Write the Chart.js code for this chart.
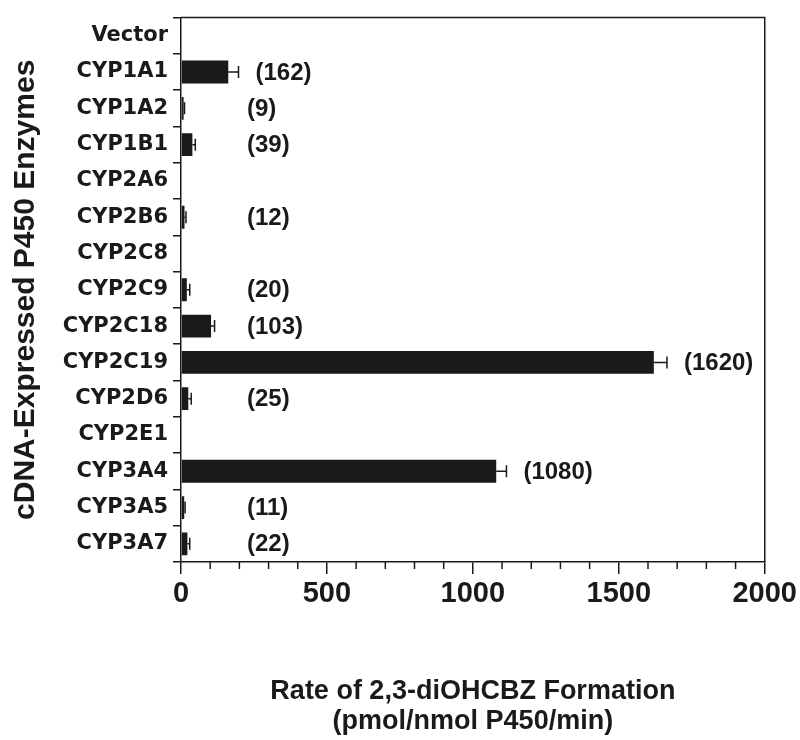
<!DOCTYPE html>
<html>
<head>
<meta charset="utf-8">
<script src="https://cdn.jsdelivr.net/npm/chart.js@4.4.0/dist/chart.umd.min.js"></script>
<style>
  html, body { margin: 0; padding: 0; background: #fff; }
</style>
</head>
<body>
<canvas id="rateChart" width="800" height="740"></canvas>
<script>
// data
const enzymes = ["Vector", "CYP1A1", "CYP1A2", "CYP1B1", "CYP2A6", "CYP2B6", "CYP2C8",
  "CYP2C9", "CYP2C18", "CYP2C19", "CYP2D6", "CYP2E1", "CYP3A4", "CYP3A5", "CYP3A7"];
const rates = [0, 162, 9, 39, 0, 12, 0, 20, 103, 1620, 25, 0, 1080, 11, 22];
const errors = [0, 35, 3, 10, 0, 5, 0, 10, 12, 45, 10, 0, 35, 3, 8];
const xTicks = [0, 500, 1000, 1500, 2000];

const ink = "#1a1a1a";
const sans = "'Liberation Sans', Arial, sans-serif";
const wide = "'DejaVu Sans', Verdana, sans-serif";

// box round the plot + minor ticks on the x axis
const framePlugin = {
  id: "frame",
  afterDraw(chart) {
    const { ctx, chartArea: a } = chart;
    const x = chart.scales.x;
    ctx.save();
    ctx.strokeStyle = ink;
    ctx.lineWidth = 1.5;
    ctx.beginPath();
    ctx.moveTo(a.left, a.top);
    ctx.lineTo(a.right, a.top);
    ctx.lineTo(a.right, a.bottom);
    ctx.stroke();
    for (let v = 100; v < 2000; v += 100) {
      if (v % 500 === 0) continue;
      const px = x.getPixelForValue(v);
      ctx.beginPath();
      ctx.moveTo(px, a.bottom);
      ctx.lineTo(px, a.bottom + 7);
      ctx.stroke();
    }
    ctx.restore();
  }
};

// one-sided error bars and the (value) labels
const errorPlugin = {
  id: "errors",
  afterDatasetsDraw(chart) {
    const { ctx } = chart;
    const x = chart.scales.x;
    const meta = chart.getDatasetMeta(0);
    ctx.save();
    ctx.strokeStyle = ink;
    ctx.fillStyle = ink;
    ctx.lineWidth = 1.5;
    ctx.font = "bold 24px " + sans;
    ctx.textAlign = "left";
    ctx.textBaseline = "middle";
    meta.data.forEach((bar, i) => {
      if (!rates[i]) return;
      const xs = x.getPixelForValue(rates[i]);
      const xe = x.getPixelForValue(rates[i] + errors[i]);
      if (errors[i]) {
        ctx.beginPath();
        ctx.moveTo(xs, bar.y);
        ctx.lineTo(xe, bar.y);
        ctx.moveTo(xe, bar.y - 6);
        ctx.lineTo(xe, bar.y + 6);
        ctx.stroke();
      }
      const lx = Math.max(xe + 17, x.getPixelForValue(0) + 66);
      ctx.fillText("(" + rates[i] + ")", lx, bar.y + 1);
    });
    ctx.restore();
  }
};

const ctx = document.getElementById("rateChart").getContext("2d");
new Chart(ctx, {
  type: "bar",
  data: {
    labels: enzymes,
    datasets: [
      {
        data: rates,
        backgroundColor: ink,
        borderWidth: 0,
        barPercentage: 0.63,
        categoryPercentage: 1,
      },
    ],
  },
  options: {
    indexAxis: "y",
    responsive: false,
    animation: false,
    layout: { padding: { top: 13, right: 35, left: 0, bottom: 0 } },
    plugins: {
      legend: { display: false },
      tooltip: { enabled: false },
    },
    scales: {
      x: {
        min: 0,
        max: 2000,
        afterBuildTicks: (s) => {
          s.ticks = xTicks.map((v) => ({ value: v }));
        },
        ticks: {
          color: ink,
          padding: 3,
          maxRotation: 0,
          callback: (v) => String(v),
          font: { family: sans, size: 29, weight: "bold" },
        },
        grid: { drawOnChartArea: false, tickLength: 12, color: ink, lineWidth: 1.5 },
        border: { color: ink, width: 1.5 },
        title: {
          display: true,
          text: ["Rate of 2,3-diOHCBZ Formation", "(pmol/nmol P450/min)"],
          color: ink,
          font: { family: sans, size: 27, weight: "bold", lineHeight: 1.1 },
          padding: { top: 0, bottom: 4 },
        },
        afterFit: (s) => {
          s.height = 178;
        },
      },
      y: {
        ticks: {
          color: ink,
          padding: 5,
          font: { family: wide, size: 21, weight: "bold" },
        },
        grid: { drawOnChartArea: false, tickLength: 8, color: ink, lineWidth: 1.5 },
        border: { color: ink, width: 1.5 },
        title: {
          display: true,
          text: "cDNA-Expressed P450 Enzymes",
          color: ink,
          font: { family: sans, size: 30, weight: "bold" },
          padding: { top: 8, bottom: 0 },
        },
        afterFit: (s) => {
          s.width = 181;
        },
      },
    },
  },
  plugins: [framePlugin, errorPlugin],
});
</script>
</body>
</html>
